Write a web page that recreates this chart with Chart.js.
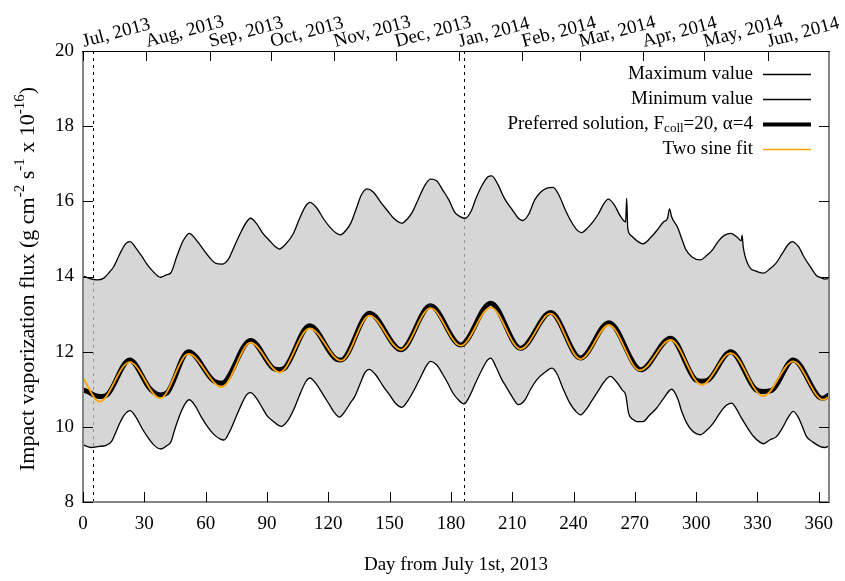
<!DOCTYPE html>
<html>
<head>
<meta charset="utf-8">
<title>Impact vaporization flux</title>
<script src="https://cdn.jsdelivr.net/npm/chart.js@4.4.1/dist/chart.umd.min.js"></script>
<style>
  html, body { margin: 0; padding: 0; background: #fff; }
  #wrap { width: 845px; height: 581px; }
</style>
</head>
<body>
<div id="wrap"><canvas id="fluxChart" width="845" height="581"></canvas></div>
<script>

// [day, flux] pairs, flux in units of 1e-16 g cm^-2 s^-1
const maxCurve = [
[0,14.02],[3,13.95],[7,13.91],[10,13.95],[13,14.12],[15,14.26],[18,14.6],[21,14.88],[23,14.93],[26,14.75],
[29,14.52],[31,14.35],[34,14.15],[38,13.98],[41,14.05],[43,14.1],[46,14.55],[49,14.95],[52,15.15],[55,15.0],
[59,14.71],[62,14.5],[65,14.35],[68,14.33],[71,14.45],[74,14.8],[77,15.15],[80,15.45],[82,15.55],[85,15.4],
[88,15.15],[91,14.97],[94,14.8],[96,14.73],[99,14.85],[103,15.15],[106,15.55],[109,15.88],[111,15.97],[114,15.85],
[118,15.51],[121,15.3],[124,15.15],[126,15.11],[129,15.25],[131,15.42],[134,15.85],[136,16.15],[139,16.33],[142,16.25],
[146,15.95],[149,15.75],[152,15.55],[156,15.42],[159,15.55],[161,15.7],[164,16.05],[167,16.4],[170,16.59],[173,16.55],
[176,16.3],[179,16.04],[182,15.7],[185,15.58],[187,15.55],[190,15.75],[192,16.04],[195,16.4],[198,16.65],[200,16.68],
[203,16.45],[206,16.1],[209,15.85],[211,15.7],[213,15.55],[215,15.49],[218,15.65],[221,16.04],[224,16.25],[227,16.35],
[230,16.37],[233,16.15],[236,15.77],[239,15.45],[242,15.22],[244,15.17],[247,15.3],[249,15.42],[252,15.65],[255,15.95],
[257,16.06],[260,15.9],[263,15.6],[265.5,15.45],[266,16.08],[266.5,15.3],[268,15.1],[271,14.95],[274,14.87],[278,15.05],
[281,15.24],[284,15.45],[286,15.55],[287,15.8],[288,15.59],[291,15.3],[293,15.0],[295,14.71],[298,14.52],[302,14.44],
[305,14.55],[308,14.71],[311,14.95],[314,15.1],[317,15.15],[320,15.05],[322,14.95],[322.5,15.1],[323,14.8],[326,14.26],
[329,14.15],[333,14.09],[336,14.2],[339,14.35],[342,14.6],[345,14.85],[347,14.93],[350,14.8],[353,14.5],[356,14.25],
[359,14.02],[361,13.97],[363,13.93],[365,13.95]
];

const minCurve = [
[0,9.52],[4,9.45],[8,9.48],[11,9.5],[14,9.61],[16,9.85],[18,10.1],[20,10.3],[23,10.43],[26,10.25],
[29,9.95],[32,9.7],[35,9.5],[38,9.41],[41,9.5],[43,9.6],[45,9.95],[48,10.4],[50,10.62],[52,10.72],
[55,10.55],[58,10.25],[61,10.0],[64,9.8],[67,9.68],[69,9.65],[72,9.9],[75,10.28],[78,10.65],[80,10.85],
[82,10.91],[85,10.75],[88,10.48],[90,10.3],[93,10.15],[97,10.01],[100,10.15],[103,10.45],[106,10.85],[109,11.2],
[111,11.3],[114,11.15],[118,10.81],[121,10.55],[123,10.38],[125.5,10.26],[128,10.4],[131,10.65],[133,10.81],[136,11.2],
[138,11.45],[140,11.53],[143,11.4],[147,11.07],[150,10.85],[153,10.62],[156,10.52],[159,10.7],[162,10.98],[165,11.3],
[168,11.62],[170,11.74],[173,11.65],[176,11.4],[178.5,11.16],[181,10.9],[184,10.7],[186.5,10.61],[189,10.8],[192,11.16],
[195,11.5],[198,11.78],[199.5,11.83],[202,11.6],[205,11.25],[207,11.07],[210,10.8],[213,10.59],[216,10.7],[219,11.0],
[222,11.25],[226,11.45],[229.5,11.56],[232,11.4],[235,11.0],[238,10.65],[241,10.42],[243.5,10.32],[246,10.45],[249,10.7],
[252,10.95],[255,11.2],[258,11.34],[261,11.2],[263.8,10.98],[265.5,10.85],[267,10.35],[269,10.2],[271,10.14],[274,10.14],
[277,10.3],[280.7,10.5],[284,10.75],[288,11.0],[291,10.75],[293,10.4],[295.4,10.1],[298,9.9],[302,9.79],[305,9.9],
[308.4,10.1],[312,10.4],[315,10.58],[317.3,10.63],[320,10.45],[322,10.25],[324.7,10.01],[328,9.75],[331,9.6],[333,9.55],
[336,9.65],[339.3,9.74],[342,9.95],[345,10.25],[347.5,10.41],[350,10.25],[352,10.0],[354,9.74],[357,9.6],[360.5,9.48],
[363,9.45],[365,9.49]
];

// preferred model run, F_coll = 20, alpha = 4
const preferred = [
[0,10.98],[3,10.92],[6,10.83],[9,10.81],[12,10.86],[22.8,11.78],[33,11.0],[37.8,10.85],[41,10.9],[51.6,12.0],
[64,11.22],[67.9,11.16],[82,12.3],[93,11.56],[96.2,11.52],[99,11.58],[110.9,12.69],[124,11.8],[126.3,11.78],[140.2,13.02],
[155.6,12.05],[170,13.22],[184.8,12.18],[199.5,13.29],[214.1,12.09],[228.8,13.04],[243.4,11.83],[257.3,12.77],
[273,11.52],[287.5,12.36],[300,11.24],[302.7,11.21],[306,11.25],[316.9,12.0],[329,11.0],[332.8,10.94],
[337,10.97],[347.5,11.78],[360,10.8],[362.1,10.76],[365,10.85]
];

// two sine least-squares fit
const twoSineFit = [
[0,11.3],[8,10.67],[22.8,11.72],[37.8,10.76],[51.6,11.94],[67.9,11.06],[82,12.24],[96.2,11.45],[110.9,12.62],[126.3,11.76],
[140.2,12.96],[155.6,12.05],[170,13.16],[184.8,12.16],[199.5,13.18],[214.1,12.07],[228.8,13.01],[243.4,11.8],[257.3,12.71],[272.5,11.5],
[287.5,12.31],[302.7,11.12],[316.9,11.96],[332.8,10.82],[347.5,11.74],[362.1,10.72],[365,10.8]
];

const dayTicks = [0, 30, 60, 90, 120, 150, 180, 210, 240, 270, 300, 330, 360];
const monthStarts = [0, 31, 62, 92, 123, 153, 184, 215, 243, 274, 304, 335];
const monthLabels = ["Jul, 2013", "Aug, 2013", "Sep, 2013", "Oct, 2013", "Nov, 2013", "Dec, 2013",
                     "Jan, 2014", "Feb, 2014", "Mar, 2014", "Apr, 2014", "May, 2014", "Jun, 2014"];
const fluxTicks = [8, 10, 12, 14, 16, 18, 20];
const markerDays = [5, 186.5];

const SERIF = "'Liberation Serif', 'Times New Roman', serif";
Chart.defaults.font.family = SERIF;
Chart.defaults.font.size = 19;
Chart.defaults.color = "#000";

const toXY = arr => arr.map(p => ({x: p[0], y: p[1]}));

// draws text pieces one after another (sub/superscripts are small + shifted), returns width
function richText(ctx, parts, x, y, measureOnly, big, small) {
  let w = 0;
  parts.forEach(p => {
    ctx.font = (p.small ? (small || 13) : (big || 19)) + "px " + SERIF;
    const pw = ctx.measureText(p.t).width;
    if (!measureOnly) ctx.fillText(p.t, x + w, y + (p.dy || 0));
    w += pw;
  });
  return w;
}

const frame = {
  id: "frame",
  beforeDraw(chart) {
    const {ctx, chartArea: a, scales} = chart;
    ctx.save();
    ctx.fillStyle = "#fff";
    ctx.fillRect(0, 0, chart.width, chart.height);
    ctx.strokeStyle = "#000";
    ctx.lineWidth = 1;
    ctx.setLineDash([3, 4]);
    markerDays.forEach(d => {
      const px = Math.round(scales.x.getPixelForValue(d)) + 0.5;
      ctx.beginPath();
      ctx.moveTo(px, a.top);
      ctx.lineTo(px, a.bottom);
      ctx.stroke();
    });
    ctx.restore();
  },
  afterDraw(chart) {
    const {ctx, chartArea: a, scales} = chart;
    const tl = 10;
    const L = Math.round(a.left), R = Math.round(a.right), T = Math.round(a.top), B = Math.round(a.bottom);
    ctx.save();

    // box: grey on the data sides, black on top
    ctx.strokeStyle = "#858585";
    ctx.lineWidth = 2;
    ctx.beginPath();
    ctx.moveTo(L, T); ctx.lineTo(L, B); ctx.lineTo(R, B); ctx.lineTo(R, T);
    ctx.stroke();
    ctx.strokeStyle = "#000";
    ctx.lineWidth = 1;
    ctx.beginPath();
    ctx.moveTo(L - 1, T + 0.5); ctx.lineTo(R + 1, T + 0.5);
    dayTicks.forEach(d => {
      const px = Math.round(scales.x.getPixelForValue(d)) + 0.5;
      ctx.moveTo(px, B); ctx.lineTo(px, B - tl);
    });
    monthStarts.forEach(d => {
      const px = Math.round(scales.x2.getPixelForValue(d)) + 0.5;
      ctx.moveTo(px, T); ctx.lineTo(px, T + tl);
    });
    fluxTicks.forEach(v => {
      const py = Math.round(scales.y.getPixelForValue(v)) + 0.5;
      ctx.moveTo(L, py); ctx.lineTo(L + tl, py);
      ctx.moveTo(R, py); ctx.lineTo(R - tl, py);
    });
    ctx.stroke();

    // month labels along the top, tilted
    ctx.fillStyle = "#000";
    ctx.font = "19px " + SERIF;
    ctx.textAlign = "left";
    ctx.textBaseline = "alphabetic";
    monthStarts.forEach((d, i) => {
      const px = scales.x2.getPixelForValue(d);
      ctx.save();
      ctx.translate(px + 1, a.top - 4);
      ctx.rotate(-15 * Math.PI / 180);
      ctx.fillText(monthLabels[i], 0, 0);
      ctx.restore();
    });

    // legend, gnuplot style: text right-aligned, sample on the right
    const rows = [
      {parts: [{t: "Maximum value"}], color: "#000", width: 1.5},
      {parts: [{t: "Minimum value"}], color: "#000", width: 1.5},
      {parts: [{t: "Preferred solution, F"}, {t: "coll", small: true, dy: 5}, {t: "=20, \u03b1=4"}], color: "#000", width: 4},
      {parts: [{t: "Two sine fit"}], color: "#ffa500", width: 1.5}
    ];
    ctx.textBaseline = "middle";
    rows.forEach((r, i) => {
      const cy = 74 + i * 25;
      const w = richText(ctx, r.parts, 0, 0, true);
      richText(ctx, r.parts, 753 - w, cy);
      ctx.strokeStyle = r.color;
      ctx.lineWidth = r.width;
      ctx.beginPath();
      ctx.moveTo(763, cy + 0.5); ctx.lineTo(811, cy + 0.5);
      ctx.stroke();
    });

    // axis titles
    ctx.font = "19px " + SERIF;
    ctx.textAlign = "center";
    ctx.fillText("Day from July 1st, 2013", (a.left + a.right) / 2, 565);

    const yParts = [
      {t: "Impact vaporization flux (g cm"}, {t: "-2", small: true, dy: -8},
      {t: " s"}, {t: "-1", small: true, dy: -8},
      {t: " x 10"}, {t: "-16", small: true, dy: -8}, {t: ")"}
    ];
    ctx.textAlign = "left";
    const yw = richText(ctx, yParts, 0, 0, true, 22, 15);
    ctx.translate(28, 279);
    ctx.rotate(-Math.PI / 2);
    richText(ctx, yParts, -yw / 2, 0, false, 22, 15);
    ctx.restore();
  }
};

new Chart(document.getElementById("fluxChart"), {
  type: "line",
  data: {
    datasets: [
      {
        label: "Maximum value",
        data: toXY(maxCurve),
        borderColor: "#000",
        borderWidth: 1.3,
        backgroundColor: "rgba(200,200,200,0.75)",
        fill: {target: 1},
        cubicInterpolationMode: "monotone",
        order: 3
      },
      {
        label: "Minimum value",
        data: toXY(minCurve),
        borderColor: "#000",
        borderWidth: 1.3,
        fill: false,
        cubicInterpolationMode: "monotone",
        order: 2
      },
      {
        label: "Preferred solution",
        data: toXY(preferred),
        borderColor: "#000",
        borderWidth: 5,
        fill: false,
        cubicInterpolationMode: "monotone",
        order: 1
      },
      {
        label: "Two sine fit",
        data: toXY(twoSineFit),
        borderColor: "#ffa500",
        borderWidth: 1.8,
        fill: false,
        cubicInterpolationMode: "monotone",
        order: 0
      }
    ]
  },
  options: {
    responsive: false,
    animation: false,
    layout: {padding: {left: 0, right: 16, top: 0, bottom: 0}},
    elements: {point: {radius: 0}},
    plugins: {
      legend: {display: false},
      tooltip: {enabled: false},
      filler: {drawTime: "beforeDatasetsDraw"}
    },
    scales: {
      x: {
        type: "linear", position: "bottom", min: 0, max: 365,
        grid: {display: false, drawTicks: false}, border: {display: false},
        ticks: {padding: 11, maxRotation: 0, autoSkip: false},
        afterBuildTicks: s => { s.ticks = dayTicks.map(v => ({value: v})); },
        afterFit: s => { s.height = 79; s.paddingLeft = 0; s.paddingRight = 0; }
      },
      x2: {
        type: "linear", position: "top", min: 0, max: 365,
        grid: {display: false, drawTicks: false}, border: {display: false},
        ticks: {display: false},
        afterFit: s => { s.height = 51; s.paddingLeft = 0; s.paddingRight = 0; }
      },
      y: {
        min: 8, max: 20,
        grid: {display: false, drawTicks: false}, border: {display: false},
        ticks: {padding: 9},
        afterBuildTicks: s => { s.ticks = fluxTicks.map(v => ({value: v})); },
        afterFit: s => { s.width = 83; s.paddingTop = 0; s.paddingBottom = 0; }
      }
    }
  },
  plugins: [frame]
});
</script>
</body>
</html>
